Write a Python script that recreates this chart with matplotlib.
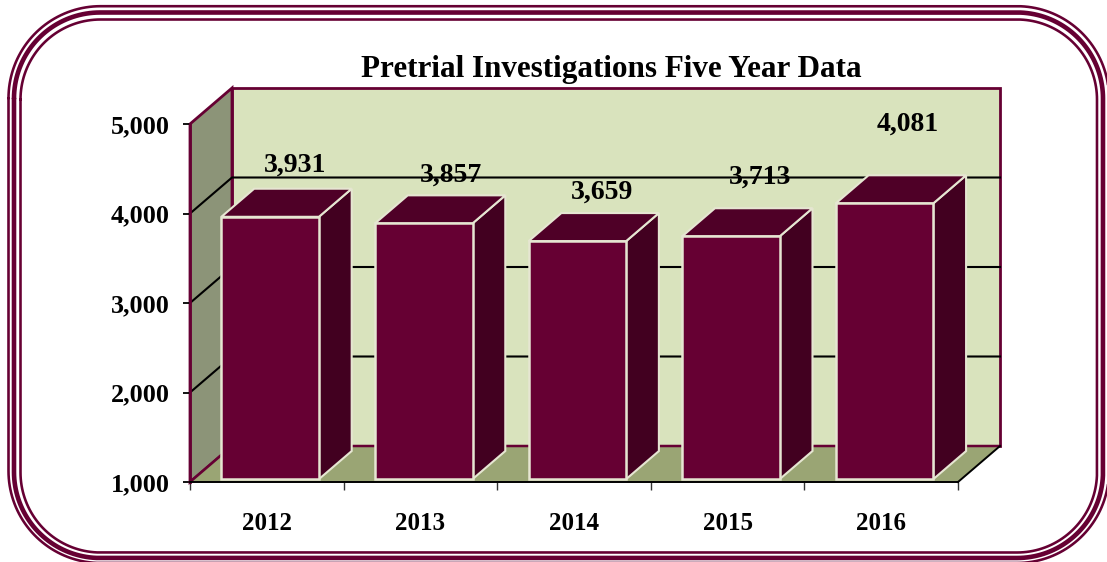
import numpy as np
import matplotlib
matplotlib.use("Agg")
import matplotlib.pyplot as plt
from matplotlib.patches import Polygon

years = ["2012", "2013", "2014", "2015", "2016"]
values = [3931, 3857, 3659, 3713, 4081]
value_labels = ["3,931", "3,857", "3,659", "3,713", "4,081"]
y_ticks = [1000, 2000, 3000, 4000, 5000]
y_labels = ["1,000", "2,000", "3,000", "4,000", "5,000"]
title = "Pretrial Investigations Five Year Data"

# label nudges in pixels, the labels do not sit evenly over the bars
label_dx = [25, 27, 25, 29, 23]
label_dy = [54, 50, 51, 61, 81]

maroon = "#660033"
bar_top = "#4f0027"
bar_side = "#420020"
cream = "#e6e6d2"
wall = "#d9e3bd"
side_wall = "#8c9478"
floor = "#9aa574"

W, H = 1107, 562
plt.rcParams["font.family"] = ["Liberation Serif", "DejaVu Serif"]
plt.rcParams["font.weight"] = "bold"
fig = plt.figure(figsize=(W / 100, H / 100), dpi=100)

# outer frame, axes in pixels
bg = fig.add_axes([0, 0, 1, 1])
bg.set_xlim(0, W)
bg.set_ylim(H, 0)
bg.axis("off")


def round_rect(x0, y0, x1, y1, r):
    t = np.linspace(0, np.pi / 2, 40)
    xs = np.concatenate([x0 + r - r * np.cos(t), x1 - r + r * np.sin(t),
                         x1 - r + r * np.cos(t), x0 + r - r * np.sin(t), [x0]])
    ys = np.concatenate([y0 + r - r * np.sin(t), y0 + r - r * np.cos(t),
                         y1 - r + r * np.sin(t), y1 - r + r * np.cos(t), [y0 + r]])
    return xs, ys


for box, lw, r in [((8.5, 6.2, 1109, 563), 2.6, 92),
                   ((14, 12.5, 1103, 558), 4.6, 86),
                   ((20.5, 19.5, 1097, 552.5), 2.6, 80)]:
    xs, ys = round_rect(box[0], box[1], box[2], box[3], r)
    bg.plot(xs, ys, color=maroon, lw=lw * 0.72, solid_joinstyle="round", solid_capstyle="round")

# chart axes = front plane of the box
left, right, top, bottom = 190, 958, 124, 482
ax = fig.add_axes([left / W, 1 - bottom / H, (right - left) / W, (bottom - top) / H])
ax.patch.set_visible(False)
ax.set_xlim(0, len(years))
ax.set_ylim(1000, 5000)

depth_x = 42 / ((right - left) / len(years))
depth_y = 36 / ((bottom - top) / 4000)


def proj(x, y, d):
    # oblique projection, d = 0 front plane, d = 1 back wall
    return (x + d * depth_x, y + d * depth_y)


n = len(years)
ymin, ymax = y_ticks[0], y_ticks[-1]
ax.add_patch(Polygon([proj(0, ymin, 1), proj(n, ymin, 1), proj(n, ymax, 1), proj(0, ymax, 1)],
                     fc=wall, ec=maroon, lw=2, clip_on=False, zorder=1))
ax.add_patch(Polygon([proj(0, ymin, 0), proj(0, ymin, 1), proj(0, ymax, 1), proj(0, ymax, 0)],
                     fc=side_wall, ec=maroon, lw=2, clip_on=False, zorder=1))
ax.add_patch(Polygon([proj(0, ymin, 0), proj(n, ymin, 0), proj(n, ymin, 1), proj(0, ymin, 1)],
                     fc=floor, ec="none", clip_on=False, zorder=1.5))

# floor edges
p = [proj(0, ymin, 0), proj(0, ymin, 1), proj(n, ymin, 1)]
ax.plot([q[0] for q in p], [q[1] for q in p], color=maroon, lw=1.8, clip_on=False, zorder=1.6)
p = [proj(n, ymin, 0), proj(n, ymin, 1)]
ax.plot([q[0] for q in p], [q[1] for q in p], color="black", lw=1.4, clip_on=False, zorder=1.6)

# gridlines over side wall and back wall
for v in y_ticks[1:-1]:
    p = [proj(0, v, 0), proj(0, v, 1), proj(n, v, 1)]
    ax.plot([q[0] for q in p], [q[1] for q in p], color="black", lw=1.5, clip_on=False, zorder=2)

bar_w = 0.635
d0, d1 = 0.08, 0.86
for i, v in enumerate(values):
    x0 = i + 0.5 - bar_w / 2
    x1 = i + 0.5 + bar_w / 2
    ax.add_patch(Polygon([proj(x1, ymin, d0), proj(x1, ymin, d1), proj(x1, v, d1), proj(x1, v, d0)],
                         fc=bar_side, ec=cream, lw=1.5, clip_on=False, zorder=3 + i))
    ax.add_patch(Polygon([proj(x0, v, d0), proj(x1, v, d0), proj(x1, v, d1), proj(x0, v, d1)],
                         fc=bar_top, ec=cream, lw=1.5, clip_on=False, zorder=3 + i))
    ax.add_patch(Polygon([proj(x0, ymin, d0), proj(x1, ymin, d0), proj(x1, v, d0), proj(x0, v, d0)],
                         fc=maroon, ec=cream, lw=1.8, clip_on=False, zorder=3 + i))
    ax.annotate(value_labels[i], xy=proj(x0 + bar_w / 2, v, d0), xytext=(label_dx[i], label_dy[i] - 2),
                textcoords="offset pixels", ha="center", va="center", fontsize=20,
                fontweight="bold", color="black", zorder=20, annotation_clip=False)

for s in ["top", "right"]:
    ax.spines[s].set_visible(False)
ax.spines["left"].set_color(maroon)
ax.spines["left"].set_linewidth(2)
ax.spines["bottom"].set_color("black")
ax.spines["bottom"].set_linewidth(1.4)
ax.spines["bottom"].set_zorder(15)

ax.set_yticks(y_ticks)
ax.set_yticklabels(y_labels, fontsize=18.8, fontweight="bold")
ax.tick_params(axis="y", length=5, width=1.3, pad=9.5, color="black")
ax.set_xticks(range(n + 1))
ax.set_xticklabels([])
ax.set_xticks([i + 0.5 for i in range(n)], minor=True)
ax.set_xticklabels(years, minor=True, fontsize=18, fontweight="bold")
ax.tick_params(axis="x", which="major", length=6, width=1, color="#333333")
ax.tick_params(axis="x", which="minor", length=0, pad=21.5)

bg.text(611, 69, title, ha="center", va="center", fontsize=22.4, fontweight="bold", color="black")

fig.savefig("out.png", dpi=100)
